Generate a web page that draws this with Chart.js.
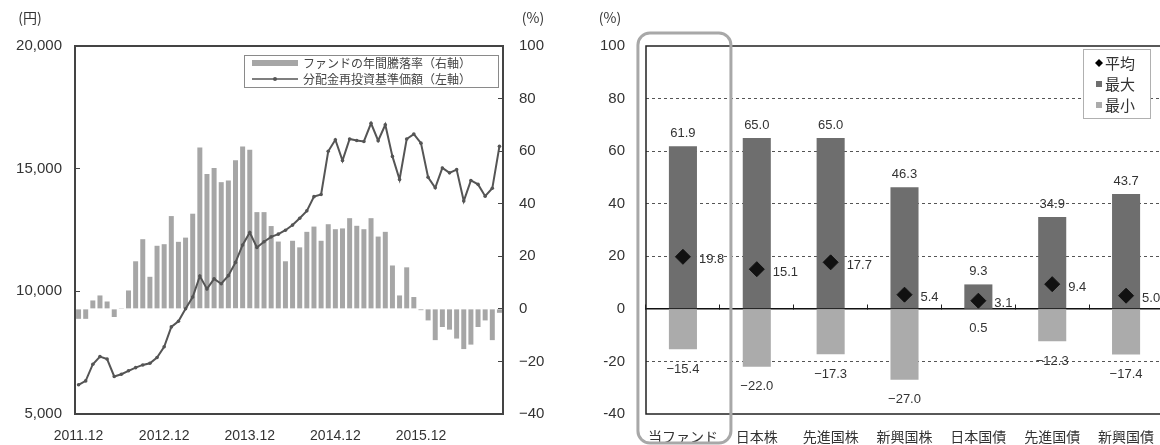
<!DOCTYPE html>
<html lang="ja">
<head>
<meta charset="utf-8">
<title>基準価額・騰落率</title>
<script src="https://cdn.jsdelivr.net/npm/chart.js@4.4.1/dist/chart.umd.min.js"></script>
<style>
    html, body { margin: 0; padding: 0; background: #fff; overflow: hidden; }
    #wrap { position: relative; width: 1160px; height: 445px; overflow: hidden; }
    #navChart { position: absolute; left: 0; top: 0; }
    #rangeChart { position: absolute; left: 580px; top: 0; }
</style>
</head>
<body>
<div id="wrap">
    <canvas id="navChart" width="580" height="445"></canvas>
    <canvas id="rangeChart" width="600" height="445"></canvas>
</div>
<script>
// --- 左: 分配金再投資基準価額と年間騰落率 ---
const months = [
    '2011.12',
    '2012.01', '2012.02', '2012.03', '2012.04', '2012.05', '2012.06', '2012.07', '2012.08', '2012.09', '2012.10', '2012.11', '2012.12',
    '2013.01', '2013.02', '2013.03', '2013.04', '2013.05', '2013.06', '2013.07', '2013.08', '2013.09', '2013.10', '2013.11', '2013.12',
    '2014.01', '2014.02', '2014.03', '2014.04', '2014.05', '2014.06', '2014.07', '2014.08', '2014.09', '2014.10', '2014.11', '2014.12',
    '2015.01', '2015.02', '2015.03', '2015.04', '2015.05', '2015.06', '2015.07', '2015.08', '2015.09', '2015.10', '2015.11', '2015.12',
    '2016.01', '2016.02', '2016.03', '2016.04', '2016.05', '2016.06', '2016.07', '2016.08', '2016.09', '2016.10', '2016.11'
];
const yearTicks = ['2011.12', '2012.12', '2013.12', '2014.12', '2015.12'];

// 分配金再投資基準価額(円, 左軸)
const navValues = [
    6190, 6350, 7030, 7340, 7240, 6530, 6620, 6760, 6890, 7000,
    7070, 7300, 7740, 8550, 8780, 9290, 9770, 10620, 10100, 10510,
    10310, 10640, 11180, 11890, 12400, 11790, 12020, 12220, 12330, 12490,
    12700, 12980, 13280, 13860, 13950, 15710, 16180, 15330, 16210, 16150,
    16110, 16850, 16140, 16790, 15500, 14560, 16210, 16410, 16040, 14650,
    14220, 15030, 14830, 14960, 13680, 14520, 14360, 13880, 14200, 15910
];

// ファンドの年間騰落率(%, 右軸)
const annualReturn = [
    -3.8, -3.8, 3.2, 5.1, 2.8, -3.1, 0.3, 7.0, 18.1, 26.5,
    12.2, 24.0, 24.6, 35.3, 25.5, 27.1, 36.2, 61.4, 51.3, 53.6,
    48.2, 48.8, 56.5, 61.8, 60.5, 36.8, 36.8, 31.5, 25.6, 18.1,
    25.9, 23.4, 29.3, 31.3, 25.9, 32.2, 30.3, 30.6, 34.5, 31.6,
    30.3, 34.5, 27.5, 29.3, 16.5, 5.1, 15.8, 4.5, -0.5, -4.4,
    -11.9, -6.9, -7.9, -11.3, -15.3, -13.6, -6.9, -4.4, -11.9, -1.5
];

// --- 右: 年間騰落率の平均・最大・最小 ---
const assetClasses = ['当ファンド', '日本株', '先進国株', '新興国株', '日本国債', '先進国債', '新興国債'];
const avgValues = [19.8, 15.1, 17.7, 5.4, 3.1, 9.4, 5.0];
const maxValues = [61.9, 65.0, 65.0, 46.3, 9.3, 34.9, 43.7];
const minValues = [-15.4, -22.0, -17.3, -27.0, 0.5, -12.3, -17.4];

const NUM_FONT = '"Liberation Sans", Arial, sans-serif';
const JP_FONT = '"Noto Sans CJK JP", "Noto Sans", sans-serif';
const TEXT = '#333';

const fmtSigned = (v) => (v < 0 ? '\u2212' + Math.abs(v) : String(v));
const fmtPct = (v) => (v < 0 ? '\u2212' + Math.abs(v).toFixed(1) : v.toFixed(1));

// 枠線
const frame = {
    id: 'frame',
    afterDatasetsDraw: (chart, args, opts) => {
        const {ctx, chartArea: a} = chart;
        ctx.save();
        ctx.strokeStyle = opts.color;
        ctx.lineWidth = opts.width;
        ctx.strokeRect(a.left, a.top, a.right - a.left, a.bottom - a.top);
        ctx.restore();
    }
};

// 軸の単位
const unitLabels = {
    id: 'unitLabels',
    afterDraw: (chart, args, opts) => {
        const {ctx, chartArea: a} = chart;
        ctx.save();
        ctx.font = '14px ' + JP_FONT;
        ctx.fillStyle = TEXT;
        ctx.textAlign = 'center';
        ctx.textBaseline = 'middle';
        (opts.items || []).forEach((it) => {
            const x = it.side === 'left' ? a.left + it.dx : a.right + it.dx;
            ctx.fillText(it.text, x, 18);
        });
        ctx.restore();
    }
};

// 左グラフの凡例(プロット内右上)
const navLegend = {
    id: 'navLegend',
    afterDraw: (chart) => {
        const {ctx, chartArea: a} = chart;
        const w = 254, h = 32;
        const x = a.right - w - 5, y = a.top + 9;
        ctx.save();
        ctx.fillStyle = '#fff';
        ctx.fillRect(x, y, w, h);
        ctx.strokeStyle = '#8a8a8a';
        ctx.lineWidth = 1;
        ctx.strokeRect(x + 0.5, y + 0.5, w, h);
        // 棒
        ctx.fillStyle = '#a6a6a6';
        ctx.fillRect(x + 8, y + 5, 46, 6);
        // 線
        ctx.strokeStyle = '#555';
        ctx.lineWidth = 1.5;
        ctx.beginPath();
        ctx.moveTo(x + 8, y + 24);
        ctx.lineTo(x + 54, y + 24);
        ctx.stroke();
        ctx.fillStyle = '#555';
        ctx.beginPath();
        ctx.arc(x + 31, y + 24, 2, 0, Math.PI * 2);
        ctx.fill();
        ctx.font = '12px ' + JP_FONT;
        ctx.fillStyle = '#444';
        ctx.textAlign = 'left';
        ctx.textBaseline = 'middle';
        ctx.fillText('ファンドの年間騰落率（右軸）', x + 59, y + 8);
        ctx.fillText('分配金再投資基準価額（左軸）', x + 59, y + 24);
        ctx.restore();
    }
};

const navCtx = document.getElementById('navChart');
new Chart(navCtx, {
    type: 'bar',
    data: {
        labels: months,
        datasets: [
            {
                type: 'line',
                label: '分配金再投資基準価額（左軸）',
                data: navValues,
                yAxisID: 'y',
                borderColor: '#555',
                borderWidth: 2,
                pointRadius: 1.8,
                pointBackgroundColor: '#555',
                pointBorderWidth: 0,
                tension: 0,
                order: 0
            },
            {
                label: 'ファンドの年間騰落率（右軸）',
                data: annualReturn,
                yAxisID: 'y1',
                backgroundColor: '#a6a6a6',
                barPercentage: 0.7,
                categoryPercentage: 1.0,
                order: 1
            }
        ]
    },
    options: {
        responsive: false,
        animation: false,
        layout: { padding: { top: 46, left: 0, right: 0, bottom: 0 } },
        plugins: {
            legend: { display: false },
            tooltip: { enabled: false },
            frame: { color: '#444', width: 2 },
            unitLabels: {
                items: [
                    { text: '(円)', side: 'left', dx: -45 },
                    { text: '(%)', side: 'right', dx: 30 }
                ]
            }
        },
        scales: {
            x: {
                grid: { display: false, drawTicks: false },
                border: { display: false },
                ticks: {
                    autoSkip: false,
                    maxRotation: 0,
                    minRotation: 0,
                    padding: 14,
                    color: TEXT,
                    font: { family: NUM_FONT, size: 14 },
                    callback: function (val) {
                        const lab = this.getLabelForValue(val);
                        return yearTicks.includes(lab) ? lab : '';
                    }
                },
                afterFit: (s) => { s.height = 31; }
            },
            y: {
                position: 'left',
                min: 5000,
                max: 20000,
                grid: { display: true, drawOnChartArea: false, drawTicks: true, tickLength: -5, tickColor: '#444' },
                border: { display: false },
                ticks: {
                    stepSize: 5000,
                    padding: 18,
                    color: TEXT,
                    font: { family: NUM_FONT, size: 15 },
                    callback: (v) => v.toLocaleString('en-US')
                },
                afterFit: (s) => { s.width = 75; }
            },
            y1: {
                position: 'right',
                min: -40,
                max: 100,
                grid: { display: true, drawOnChartArea: false, drawTicks: true, tickLength: -5, tickColor: '#444' },
                border: { display: false },
                ticks: {
                    stepSize: 20,
                    padding: 21,
                    color: TEXT,
                    font: { family: NUM_FONT, size: 15 },
                    callback: fmtSigned
                },
                afterFit: (s) => { s.width = 77; }
            }
        }
    },
    plugins: [frame, unitLabels, navLegend]
});

// 数値ラベル
const valueLabels = {
    id: 'valueLabels',
    afterDatasetsDraw: (chart) => {
        const {ctx} = chart;
        const zero = chart.scales.y.getPixelForValue(0);
        ctx.save();
        ctx.font = '13px ' + NUM_FONT;
        ctx.fillStyle = TEXT;
        ctx.textBaseline = 'middle';
        chart.data.datasets.forEach((ds, di) => {
            const meta = chart.getDatasetMeta(di);
            meta.data.forEach((el, i) => {
                const text = fmtPct(ds.data[i]);
                if (ds.labelAt === 'top') {
                    ctx.textAlign = 'center';
                    ctx.fillText(text, el.x, el.y - 13);
                } else if (ds.labelAt === 'bottom') {
                    ctx.textAlign = 'center';
                    ctx.fillText(text, el.x, Math.max(el.y, zero) + 20);
                } else {
                    ctx.textAlign = 'left';
                    ctx.fillText(text, el.x + 16, el.y + 3);
                }
            });
        });
        ctx.restore();
    }
};

// 当ファンドを囲む角丸枠
const highlight = {
    id: 'highlight',
    afterDraw: (chart) => {
        const {ctx, chartArea: a} = chart;
        const cx = chart.scales.x.getPixelForValue(0);
        const left = cx - 45, right = cx + 48;
        const top = a.top - 13, bottom = a.bottom + 29;
        ctx.save();
        ctx.strokeStyle = '#a8a8a8';
        ctx.lineWidth = 3;
        ctx.beginPath();
        ctx.roundRect(left, top, right - left, bottom - top, 12);
        ctx.stroke();
        ctx.restore();
    }
};

// 右グラフの凡例
const rangeLegend = {
    id: 'rangeLegend',
    afterDraw: (chart) => {
        const {ctx, chartArea: a} = chart;
        const w = 67, h = 69;
        const x = a.right - 13 - w, y = a.top + 3;
        ctx.save();
        ctx.fillStyle = '#fff';
        ctx.fillRect(x, y, w, h);
        ctx.strokeStyle = '#b0b0b0';
        ctx.lineWidth = 1;
        ctx.strokeRect(x + 0.5, y + 0.5, w, h);
        const rows = [
            { text: '平均', mark: 'diamond', color: '#000' },
            { text: '最大', mark: 'square', color: '#6e6e6e' },
            { text: '最小', mark: 'square', color: '#ababab' }
        ];
        ctx.font = '15px ' + JP_FONT;
        ctx.textAlign = 'left';
        ctx.textBaseline = 'middle';
        rows.forEach((r, i) => {
            const ry = y + 14 + i * 21;
            const mx = x + 16;
            ctx.fillStyle = r.color;
            if (r.mark === 'diamond') {
                ctx.beginPath();
                ctx.moveTo(mx, ry - 4);
                ctx.lineTo(mx + 4, ry);
                ctx.lineTo(mx, ry + 4);
                ctx.lineTo(mx - 4, ry);
                ctx.closePath();
                ctx.fill();
            } else {
                ctx.fillRect(mx - 3, ry - 3, 6, 6);
            }
            ctx.fillStyle = TEXT;
            ctx.fillText(r.text, x + 22, ry);
        });
        ctx.restore();
    }
};

const rangeCtx = document.getElementById('rangeChart');
new Chart(rangeCtx, {
    type: 'bar',
    data: {
        labels: assetClasses,
        datasets: [
            {
                type: 'line',
                label: '平均',
                data: avgValues,
                xAxisID: 'x',
                showLine: false,
                pointStyle: 'rectRot',
                pointRadius: 7.5,
                pointBackgroundColor: '#111',
                pointBorderColor: '#111',
                labelAt: 'right',
                order: 0
            },
            {
                label: '最大',
                data: maxValues,
                xAxisID: 'x',
                backgroundColor: '#6e6e6e',
                grouped: false,
                barPercentage: 0.38,
                categoryPercentage: 1.0,
                labelAt: 'top',
                order: 1
            },
            {
                label: '最小',
                data: minValues,
                xAxisID: 'x',
                backgroundColor: '#ababab',
                grouped: false,
                barPercentage: 0.38,
                categoryPercentage: 1.0,
                labelAt: 'bottom',
                order: 2
            }
        ]
    },
    options: {
        responsive: false,
        animation: false,
        layout: { padding: { top: 46, left: 0, right: 17, bottom: 0 } },
        plugins: {
            legend: { display: false },
            tooltip: { enabled: false },
            frame: { color: '#222', width: 1.5 },
            unitLabels: {
                items: [
                    { text: '(%)', side: 'left', dx: -36 }
                ]
            }
        },
        scales: {
            x: {
                offset: true,
                grid: { display: false, drawTicks: false },
                border: { display: false },
                ticks: {
                    autoSkip: false,
                    maxRotation: 0,
                    minRotation: 0,
                    padding: 14,
                    color: TEXT,
                    font: { family: JP_FONT, size: 14 }
                },
                afterFit: (s) => { s.height = 31; }
            },
            x0: {
                type: 'category',
                position: { y: 0 },
                offset: true,
                grid: { display: true, offset: true, drawOnChartArea: false, drawTicks: true, tickLength: -5, tickColor: '#222' },
                border: { display: true, color: '#111', width: 1.5 },
                ticks: { display: false }
            },
            y: {
                min: -40,
                max: 100,
                grid: {
                    drawTicks: false,
                    color: (c) => ([100, 0, -40].includes(c.tick.value) ? 'rgba(0,0,0,0)' : '#555'),
                    lineWidth: 1
                },
                border: { display: false, dash: [3, 3] },
                ticks: {
                    stepSize: 20,
                    padding: 21,
                    color: TEXT,
                    font: { family: NUM_FONT, size: 15 },
                    callback: (v) => (v < 0 ? '-' + Math.abs(v) : v)
                },
                afterFit: (s) => { s.width = 66; }
            }
        }
    },
    plugins: [frame, unitLabels, valueLabels, highlight, rangeLegend]
});
</script>
</body>
</html>
